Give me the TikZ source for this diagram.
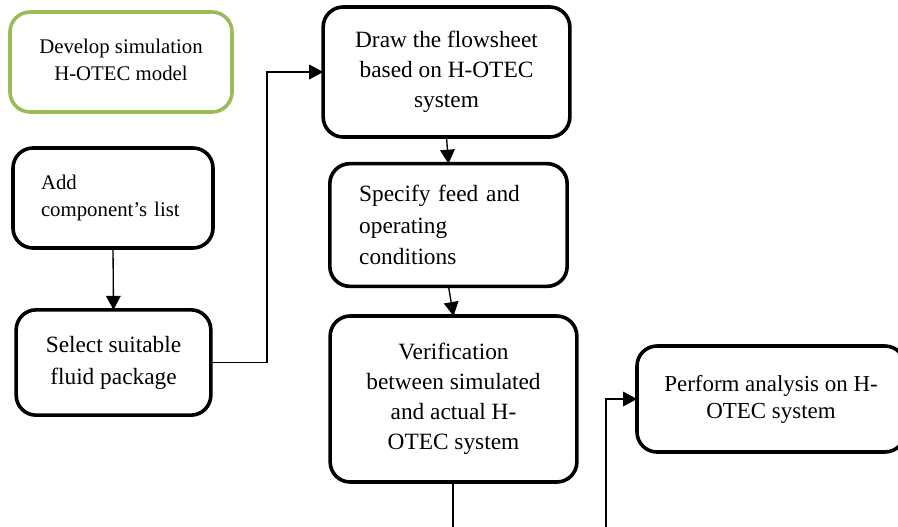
\documentclass[tikz,border=0pt]{standalone}
\usepackage{fontspec}
\setmainfont{Liberation Serif}
\usetikzlibrary{arrows.meta,positioning,calc}
\definecolor{leafgreen}{HTML}{9BBB59}
\begin{document}
\begin{tikzpicture}[x=0.75pt,y=-0.75pt,
  stepbox/.style={draw=black,line width=2.7pt,rounded corners=15pt,fill=white,
    inner sep=0pt,outer sep=0pt,font=\fontsize{17.5}{22.5}\selectfont},
  smallbox/.style={stepbox,font=\fontsize{15.6}{20.25}\selectfont},
  link/.style={line width=1pt,-{Triangle[length=10.5pt,width=11pt]}},
  plain/.style={line width=1pt}]
\useasboundingbox (0,0) rectangle (898,526);

% process boxes
\node[smallbox,draw=leafgreen,minimum width=166.5pt,minimum height=75pt,align=center,
  text depth=4pt]
  (develop) at (121,62) {Develop simulation\\H-OTEC model};
\node[smallbox,minimum width=150pt,minimum height=75pt,text width=108pt,align=left]
  (add) at (113,198) {Add\\component’s list};
\node[stepbox,minimum width=146pt,minimum height=79pt,align=center,
  font=\fontsize{17.5}{24}\selectfont]
  (select) at (113.5,362.5) {Select suitable\\fluid package};
\node[stepbox,minimum width=185pt,minimum height=97.5pt,align=center]
  (flow) at (446.5,72) {Draw the flowsheet\\based on H-OTEC\\system};
\node[stepbox,minimum width=178pt,minimum height=92pt,text width=134pt,align=left,
  font=\fontsize{17.5}{23.5}\selectfont]
  (feed) at (448.5,225) {Specify feed and\\operating\\conditions};
\node[stepbox,minimum width=185pt,minimum height=124.5pt,align=center]
  (verify) at (453.5,399) {Verification\\between simulated\\and actual H-\\OTEC system};
\node[stepbox,minimum width=201pt,minimum height=79.5pt,align=center,
  text depth=3pt,font=\fontsize{17.2}{20.25}\selectfont]
  (analysis) at (771,399) {Perform analysis on H-\\OTEC system};

% connectors
\coordinate (riser) at (267,0);
\coordinate (vout) at (453,528);
\coordinate (ain) at (606,528);
\draw[link] (add.south) -- (select.north);
\draw[link] (select.east) -- (riser |- select.east) |- (flow.west);
\draw[link] (flow.south) -- (feed.north);
\draw[link] (feed.south) -- (verify.north);
\draw[plain] (verify.south -| vout) -- (vout);
\draw[link] (ain) |- (analysis.west);
\end{tikzpicture}
\end{document}
